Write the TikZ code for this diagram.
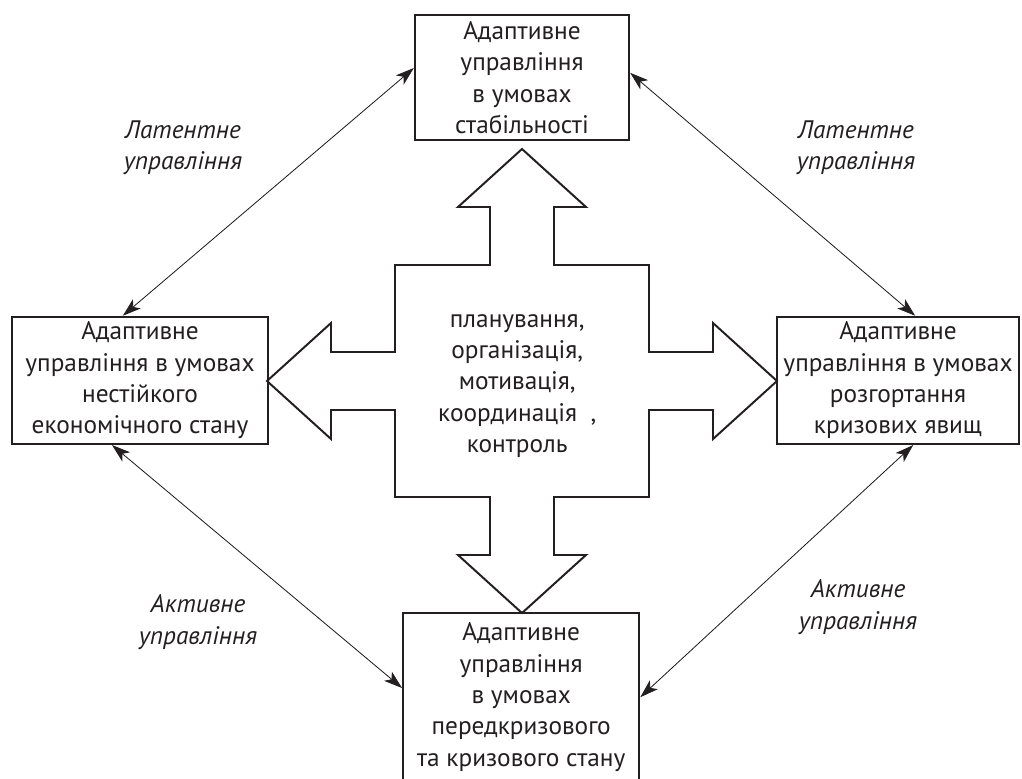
\documentclass[tikz,border=0pt]{standalone}
\usepackage{fontspec}
\setmainfont{PT Sans}
\usetikzlibrary{arrows.meta, positioning, calc}
\definecolor{inkBlack}{HTML}{231F20}
\tikzset{
  >={Stealth[length=4.6mm, width=3mm, inset=1.2mm]},
  mbox/.style={draw=inkBlack, line width=1.6pt, align=center, inner sep=0pt,
    font=\fontsize{18}{22.3}\selectfont, text=inkBlack},
  link/.style={<->, line width=0.6pt, draw=inkBlack},
  mlabel/.style={font=\fontsize{18}{22.3}\selectfont\itshape, align=center,
    text=inkBlack},
  cross/.style={draw=inkBlack, line width=1.4pt, line join=miter},
}

\begin{document}
\begin{tikzpicture}
  \useasboundingbox (0,0) rectangle (25.55,-19.45);

  % ---- Four states ---------------------------------------------------------
  \node[mbox, minimum width=5.35cm, minimum height=3.125cm] (stab) at (13.05,-1.94)
        {Адаптивне\\управління\\в умовах\\стабільності};
  \node[mbox, minimum width=6.4cm, minimum height=3.175cm] (unst) at (3.5,-9.51)
        {Адаптивне\\управління в умовах\\нестійкого\\економічного стану};
  \node[mbox, minimum width=6.05cm, minimum height=3.175cm] (crisis) at (22.45,-9.51)
        {Адаптивне\\управління в умовах\\розгортання\\кризових явищ};
  \node[mbox, minimum width=5.9cm, minimum height=4.2cm] (precr) at (13.03,-17.43)
        {Адаптивне\\управління\\в умовах\\передкризового\\та кризового стану};

  % ---- Central cross of functions ------------------------------------------
  \coordinate (hub) at (13.05,-9.525);
  \draw[cross, shift={(hub)}]
    (0,5.8) -- (1.6,4.35) -- (0.8,4.35) -- (0.8,2.9) -- (3.175,2.9)
    -- (3.175,0.725) -- (4.775,0.725) -- (4.775,1.45) -- (6.375,0)
    -- (4.775,-1.45) -- (4.775,-0.725) -- (3.175,-0.725) -- (3.175,-2.9)
    -- (0.8,-2.9) -- (0.8,-4.35) -- (1.6,-4.35) -- (0,-5.8)
    -- (-1.6,-4.35) -- (-0.8,-4.35) -- (-0.8,-2.9) -- (-3.175,-2.9)
    -- (-3.175,-0.725) -- (-4.775,-0.725) -- (-4.775,-1.45) -- (-6.375,0)
    -- (-4.775,1.45) -- (-4.775,0.725) -- (-3.175,0.725) -- (-3.175,2.9)
    -- (-0.8,2.9) -- (-0.8,4.35) -- (-1.6,4.35) -- cycle;
  \node[font=\fontsize{18}{22.3}\selectfont, align=center, text=inkBlack] (funcs)
        at (12.93,-9.65)
        {планування,\\організація,\\мотивація,\\координація\ \ ,\\контроль};

  % ---- Links between states ------------------------------------------------
  \draw[link] ([xshift=-0.43cm]unst.north) -- ([yshift=0.24cm]stab.west);
  \draw[link] ([yshift=0.12cm]stab.east) -- ([xshift=0.43cm]crisis.north);
  \draw[link] ([xshift=-0.7cm]unst.south) -- ([yshift=0.23cm]precr.west);
  \draw[link] ([xshift=0.38cm]crisis.south) -- (precr.east);

  \node[mlabel] (lat1) at (4.575,-3.69)  {Латентне\\управління};
  \node[mlabel] (lat2) at (21.4,-3.69)   {Латентне\\управління};
  \node[mlabel] (act1) at (4.95,-15.55)  {Активне\\управління};
  \node[mlabel] (act2) at (21.45,-15.18) {Активне\\управління};

\end{tikzpicture}
\end{document}
